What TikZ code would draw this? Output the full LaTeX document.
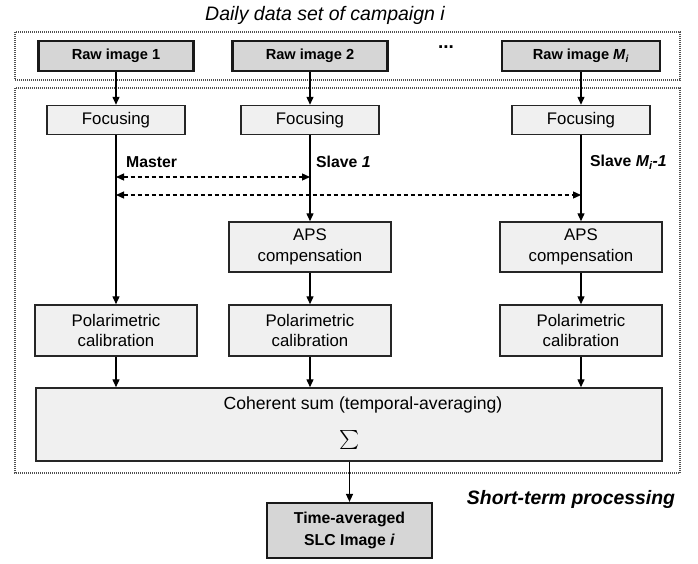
\documentclass[tikz,border=0pt]{standalone}
\usepackage{fontspec}
\setmainfont{Liberation Sans}
\usetikzlibrary{arrows.meta, positioning}
\definecolor{rawGray}{HTML}{D6D6D6}
\definecolor{boxGray}{HTML}{F0F0F0}
\definecolor{frameGray}{HTML}{505050}

\begin{document}
\begin{tikzpicture}[x=1pt, y=-1pt,
    every node/.style={font=\fontsize{16.8}{20.5}\selectfont},
    rawbox/.style={draw=black!90, line width=2.2pt, fill=rawGray, minimum width=155, minimum height=30, inner sep=0pt, align=center, font=\fontsize{14.6}{22}\selectfont\bfseries},
    procbox/.style={draw=black!85, line width=1.5pt, fill=boxGray, inner sep=0pt, align=center},
    tag/.style={anchor=west, inner sep=0pt, font=\fontsize{15.8}{18}\selectfont\bfseries},
    link/.style={-{Triangle[length=8pt,width=7pt]}, line width=1.4pt},
    pair/.style={{Triangle[length=8pt,width=7pt]}-{Triangle[length=8pt,width=7pt]}, line width=1.3pt, dash pattern=on 4pt off 3pt},
    frame/.style={draw=frameGray, line width=1.1pt, dash pattern=on 1pt off 1pt}]
  \useasboundingbox (0,0) rectangle (698,563);
  \draw[frame] (15,32) rectangle (680,80);
  \draw[frame] (15,88) rectangle (680,473);

  \node[font=\fontsize{19.5}{23}\selectfont\itshape] (title) at (325,15) {Daily data set of campaign i};
  \node[rawbox] (raw1) at (116,56) {Raw image 1};
  \node[rawbox] (raw2) at (310,56) {Raw image 2};
  \node[rawbox, minimum width=158] (rawM) at (581,56) {Raw image \textit{M}\textsubscript{\textit{i}}};
  \node[font=\fontsize{19}{20}\selectfont\bfseries] (dots) at (446,47) {...};

  \foreach \x/\n in {116/1, 310/2, 581/3} {
    \node[procbox, minimum width=138, minimum height=29] (foc\n) at (\x,120) {Focusing};
    \node[procbox, minimum width=162, minimum height=51] (pol\n) at (\x,330.5) {Polarimetric\\calibration};
  }
  \foreach \x/\n in {310/2, 581/3}
    \node[procbox, minimum width=162, minimum height=50] (aps\n) at (\x,247) {APS\\compensation};

  \node[tag] (lmaster) at (126,162) {Master};
  \node[tag] (lslave1) at (316,162) {Slave \textit{1}};
  \node[tag] (lslaveM) at (590,162) {Slave \textit{M\textsubscript{i}-1}};

  \node[procbox, minimum width=626, minimum height=73] (sum) at (349,424.5) {};
  \node[inner sep=0pt, font=\fontsize{17.6}{20}\selectfont] (sumtxt) at (363,405) {Coherent sum (temporal-averaging)};
  \node[inner sep=0pt] (sumsym) at (350,440) {\scalebox{1.9}{$\sum$}};
  \node[rawbox, minimum width=165, minimum height=55, font=\fontsize{15.8}{22.5}\selectfont\bfseries] (out) at (349.5,530.5) {Time-averaged\\SLC Image \textit{i}};
  \node[font=\fontsize{19.4}{22}\selectfont\bfseries\itshape] (stp) at (571,499) {Short-term processing};

  \foreach \a/\b in {raw1/foc1, raw2/foc2, rawM/foc3, foc1/pol1, foc2/aps2, foc3/aps3, aps2/pol2, aps3/pol3}
    \draw[link] (\a) -- (\b);
  \foreach \n in {1,2,3}
    \draw[link] (pol\n.south) -- (pol\n.south |- sum.north);
  \draw[link] (sum.south -| out.north) -- (out.north);

  \coordinate (mA) at (116,177);
  \coordinate (sA) at (310,177);
  \coordinate (mB) at (116,195);
  \coordinate (sB) at (581,195);
  \draw[pair] (mA) -- (sA);
  \draw[pair] (mB) -- (sB);
\end{tikzpicture}
\end{document}
